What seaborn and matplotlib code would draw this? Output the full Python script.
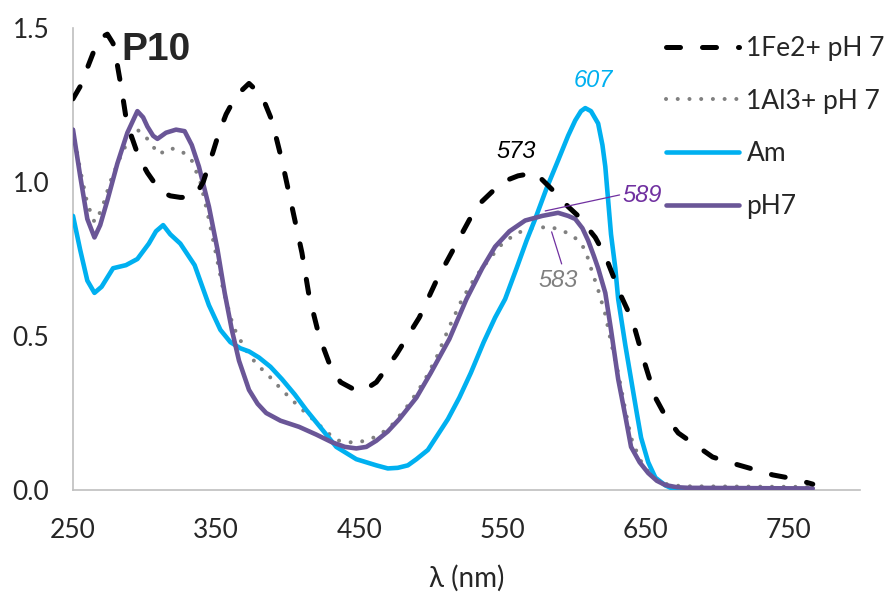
import matplotlib
matplotlib.use('Agg')
import matplotlib.pyplot as plt
import seaborn as sns
import pandas as pd

# absorbance spectra
fe_nm = [250, 255, 260, 265, 270, 274, 278, 281, 284, 287, 290, 296, 302, 311, 318, 325, 331, 336, 341,
         348, 352, 357, 364, 373, 382, 389, 396, 403, 410, 415, 422, 430, 437, 445, 452, 462, 476, 492,
         504, 518, 532, 550, 561, 573, 586, 596, 603, 615, 622, 633, 641, 649, 657, 664, 673, 685, 697,
         710, 725, 739, 754, 767]
fe_val = [1.27, 1.31, 1.37, 1.43, 1.47, 1.48, 1.45, 1.38, 1.30, 1.21, 1.16, 1.08, 1.03, 0.97, 0.955, 0.95,
          0.95, 0.96, 1.00, 1.10, 1.16, 1.22, 1.28, 1.32, 1.28, 1.20, 1.07, 0.92, 0.77, 0.63, 0.50, 0.40,
          0.35, 0.33, 0.32, 0.35, 0.44, 0.56, 0.68, 0.80, 0.92, 1.00, 1.02, 1.03, 0.97, 0.92, 0.89, 0.82,
          0.76, 0.63, 0.55, 0.42, 0.30, 0.24, 0.185, 0.146, 0.107, 0.088, 0.068, 0.049, 0.036, 0.019]

al_nm = [250, 255, 260, 265, 270, 276, 282, 288, 295, 302, 310, 318, 326, 333, 339, 344, 348, 355, 362,
         370, 378, 387, 396, 408, 420, 428, 436, 443, 450, 460, 471, 478, 485, 495, 504, 513, 522, 531,
         541, 550, 559, 566, 573, 583, 590, 598, 603, 608, 612, 617, 622, 626, 631, 636, 640, 646, 652,
         658, 664, 672, 680, 767]
al_val = [1.17, 1.04, 0.93, 0.87, 0.91, 1.00, 1.07, 1.13, 1.17, 1.14, 1.09, 1.11, 1.10, 1.07, 1.00, 0.90,
          0.81, 0.65, 0.53, 0.46, 0.41, 0.37, 0.325, 0.27, 0.22, 0.185, 0.16, 0.155, 0.155, 0.17, 0.20,
          0.24, 0.28, 0.35, 0.43, 0.53, 0.62, 0.69, 0.75, 0.80, 0.83, 0.845, 0.85, 0.855, 0.845, 0.83,
          0.81, 0.78, 0.72, 0.65, 0.57, 0.48, 0.38, 0.26, 0.17, 0.10, 0.06, 0.035, 0.02, 0.014, 0.012, 0.01]

am_nm = [250, 255, 260, 265, 270, 278, 287, 295, 303, 308, 313, 318, 325, 335, 345, 353, 360, 367, 373,
         380, 388, 396, 405, 413, 420, 427, 434, 441, 448, 455, 462, 470, 477, 484, 490, 498, 505, 512,
         520, 528, 537, 545, 552, 560, 567, 573, 581, 589, 596, 601, 605, 608, 612, 617, 620, 622, 624,
         626, 629, 631, 636, 640, 644, 647, 652, 657, 664, 671, 680, 767]
am_val = [0.89, 0.78, 0.68, 0.64, 0.66, 0.72, 0.73, 0.75, 0.80, 0.84, 0.86, 0.83, 0.80, 0.73, 0.60, 0.52,
          0.48, 0.46, 0.45, 0.43, 0.40, 0.36, 0.31, 0.26, 0.22, 0.18, 0.14, 0.12, 0.10, 0.09, 0.08, 0.07,
          0.072, 0.08, 0.10, 0.13, 0.18, 0.23, 0.30, 0.38, 0.48, 0.56, 0.62, 0.72, 0.81, 0.88, 0.98, 1.07,
          1.15, 1.20, 1.23, 1.24, 1.23, 1.19, 1.12, 1.05, 0.94, 0.83, 0.72, 0.62, 0.47, 0.36, 0.25, 0.17,
          0.09, 0.04, 0.015, 0.0, -0.005, -0.005]

ph7_nm = [250, 255, 260, 265, 269, 274, 281, 288, 295, 299, 302, 306, 309, 315, 322, 328, 333, 338, 345,
          351, 356, 361, 366, 373, 379, 385, 395, 408, 420, 431, 440, 448, 455, 462, 470, 478, 490, 500,
          513, 525, 536, 545, 555, 566, 578, 589, 596, 601, 606, 610, 614, 617, 622, 626, 631, 636, 640,
          646, 652, 658, 664, 672, 680, 767]
ph7_val = [1.17, 1.02, 0.88, 0.82, 0.86, 0.94, 1.06, 1.16, 1.23, 1.21, 1.18, 1.15, 1.14, 1.16, 1.17, 1.165,
           1.12, 1.05, 0.92, 0.78, 0.64, 0.52, 0.42, 0.325, 0.28, 0.25, 0.225, 0.205, 0.18, 0.155, 0.14,
           0.135, 0.14, 0.16, 0.19, 0.23, 0.30, 0.38, 0.49, 0.62, 0.72, 0.79, 0.84, 0.875, 0.89, 0.90, 0.89,
           0.88, 0.85, 0.81, 0.76, 0.72, 0.64, 0.52, 0.36, 0.24, 0.14, 0.09, 0.055, 0.03, 0.016, 0.009,
           0.007, 0.005]

BLUE = '#00B0F0'
PURPLE = '#6A5697'
GREY = '#808080'

sns.set_style('white')
plt.rcParams['font.family'] = ['Lato', 'DejaVu Sans']

fig = plt.figure(figsize=(8.92, 5.92), dpi=100)
ax = fig.add_axes([73 / 892, 102 / 592, 787 / 892, 462 / 592])

sns.lineplot(x=al_nm, y=al_val, ax=ax, color=GREY, lw=2.9, linestyle=(0, (0.01, 2.9)),
             dash_capstyle='round', dash_joinstyle='round', label='1Al3+ pH 7', zorder=2)
sns.lineplot(x=am_nm, y=am_val, ax=ax, color=BLUE, lw=3.3, solid_joinstyle='round',
             solid_capstyle='round', label='Am', zorder=3)
sns.lineplot(x=ph7_nm, y=ph7_val, ax=ax, color=PURPLE, lw=3.3, solid_joinstyle='round',
             solid_capstyle='round', label='pH7', zorder=4)
sns.lineplot(x=fe_nm, y=fe_val, ax=ax, color='black', lw=3.6, linestyle=(0, (2.8, 4.4)),
             dash_capstyle='round', dash_joinstyle='round', label='1Fe2+ pH 7', zorder=5)

handles, labels = ax.get_legend_handles_labels()
order = [labels.index(l) for l in ['1Fe2+ pH 7', '1Al3+ pH 7', 'Am', 'pH7']]
ax.legend([handles[i] for i in order], [labels[i] for i in order],
          loc='upper left', bbox_to_anchor=(666 / 892, 1 - 36 / 592), bbox_transform=fig.transFigure,
          frameon=False, fontsize=19, handlelength=2.75, handletextpad=0.3, labelspacing=1.05,
          borderpad=0, borderaxespad=0)

ax.set_xlim(250, 800)
ax.set_ylim(0, 1.5)
ax.set_xticks([250, 350, 450, 550, 650, 750])
ax.set_yticks([0.0, 0.5, 1.0, 1.5])
ax.set_yticklabels(['0.0', '0.5', '1.0', '1.5'])
ax.tick_params(axis='both', labelsize=19, length=6, width=1, color='#BFBFBF', direction='out')
ax.tick_params(axis='y', pad=11)
ax.tick_params(axis='x', pad=14)
ax.set_xlabel('λ (nm)', fontsize=20, labelpad=16)
ax.set_ylabel('')
for side in ['top', 'right']:
    ax.spines[side].set_visible(False)
for side in ['left', 'bottom']:
    ax.spines[side].set_color('#BFBFBF')
    ax.spines[side].set_linewidth(1.2)

# title and peak annotations
ax.text(0.062, 0.93, 'P10', transform=ax.transAxes, fontsize=28, fontweight='bold',
        family=['Liberation Sans'], va='baseline', ha='left')
ax.text(614, 1.33, '607', color=BLUE, fontsize=17, style='italic', family=['Liberation Sans'],
        ha='center', va='center')
ax.text(560, 1.10, '573', color='black', fontsize=17, style='italic', family=['Liberation Sans'],
        ha='center', va='center')
ax.text(634, 0.955, '589', color='#7030A0', fontsize=17, style='italic', family=['Liberation Sans'],
        ha='left', va='center')
ax.plot([580, 632], [0.906, 0.958], color='#7030A0', lw=0.9, zorder=6)
ax.text(589, 0.68, '583', color=GREY, fontsize=17, style='italic', family=['Liberation Sans'],
        ha='center', va='center')
ax.plot([584.5, 591.5], [0.838, 0.734], color='#7030A0', lw=0.9, zorder=6)

fig.savefig('out.png', dpi=100)
